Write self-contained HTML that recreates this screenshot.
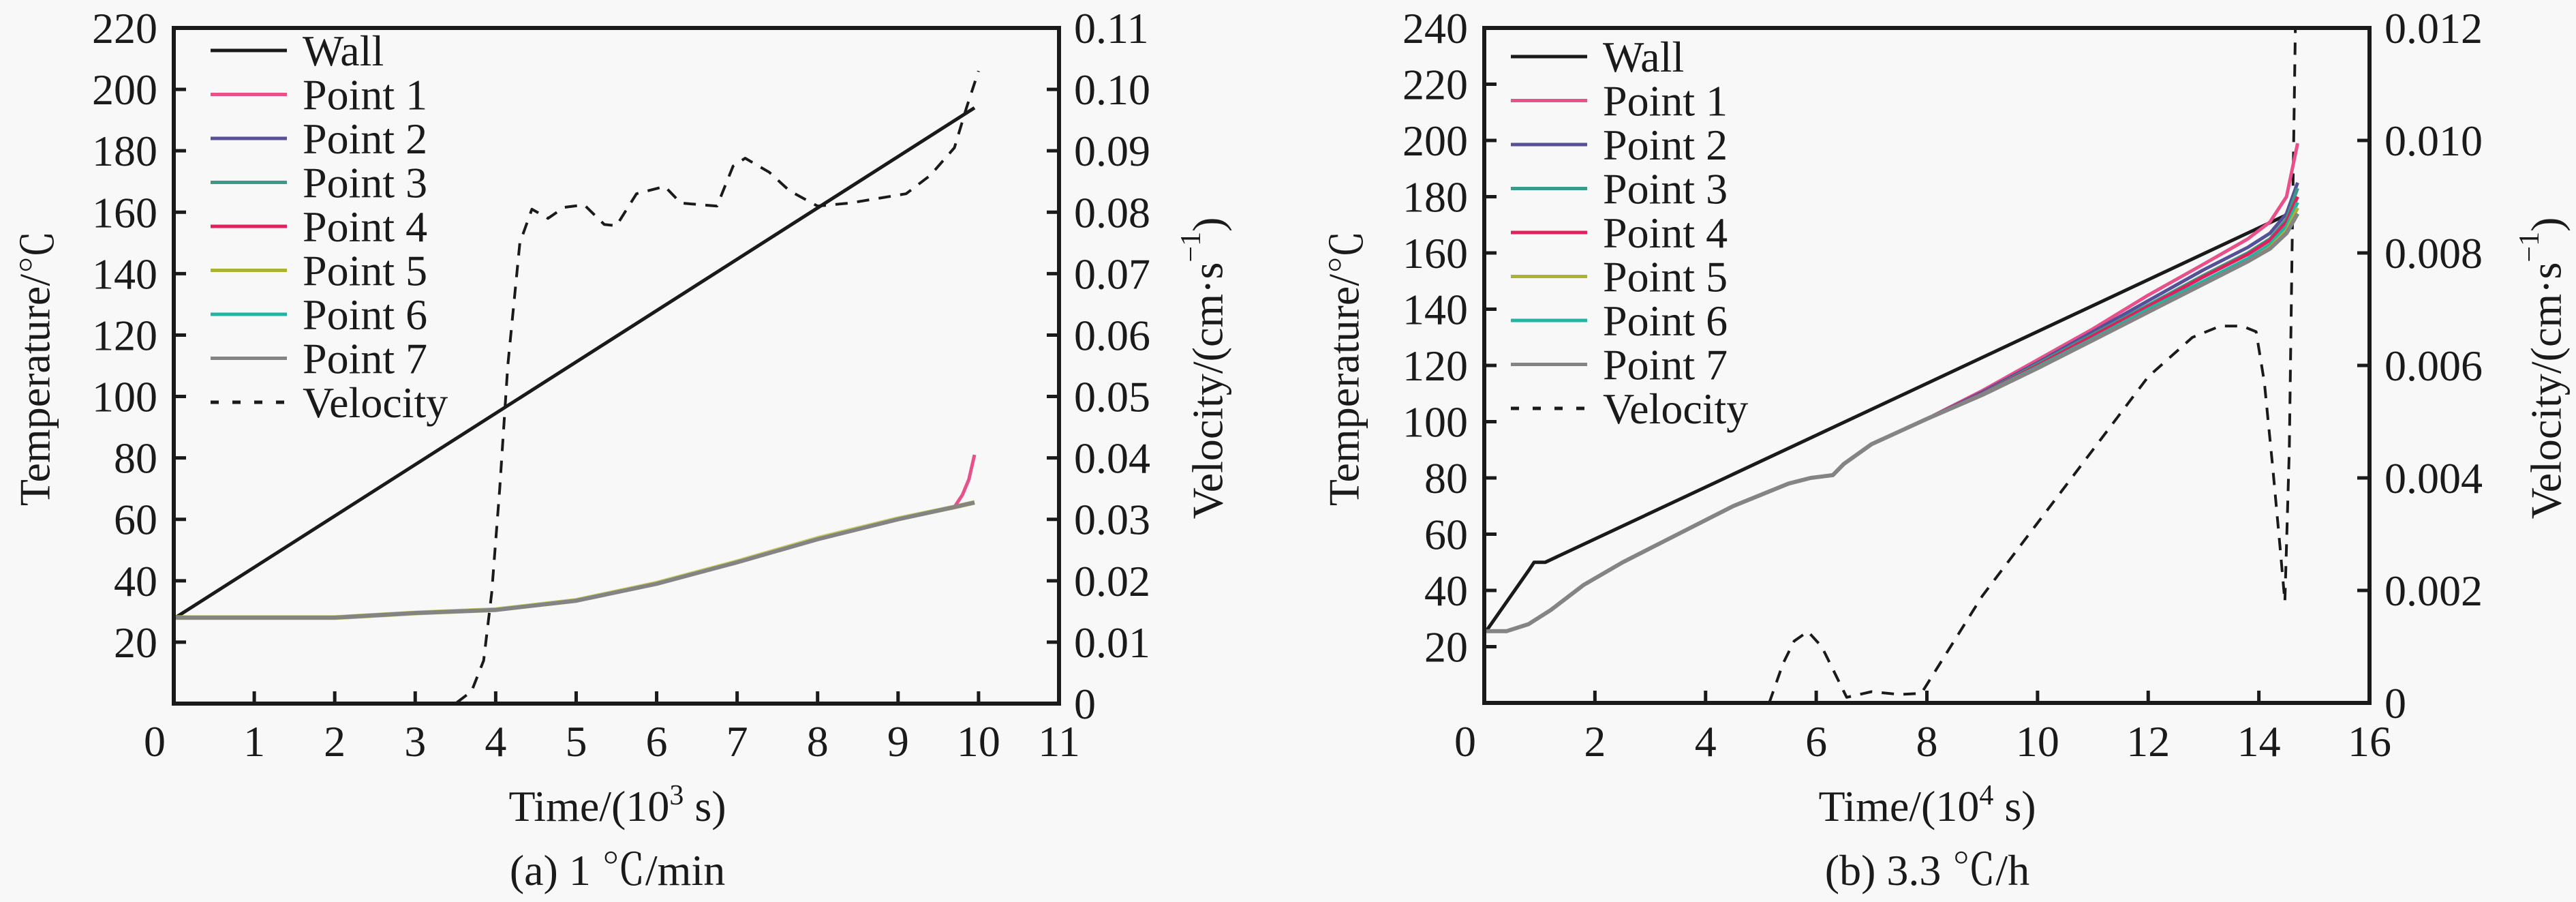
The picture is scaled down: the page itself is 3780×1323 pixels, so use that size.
<!DOCTYPE html>
<html><head><meta charset="utf-8"><style>
html,body{margin:0;padding:0;background:#f8f8f8;font-family:"Liberation Serif","Times New Roman",serif;}
svg{display:block;font-family:"Liberation Serif","Times New Roman",serif;}
svg text{font-family:"Liberation Serif","Times New Roman",serif !important;fill:#1a1a1a;font-size:64px;}
svg text tspan.cjk{font-family:"Noto Serif CJK SC","Noto Sans CJK SC",serif !important;}
</style></head><body>
<svg id="fig" width="3780" height="1323" viewBox="0 0 3780 1323" xmlns="http://www.w3.org/2000/svg" font-family="Liberation Serif, serif">
<rect width="3780" height="1323" fill="#f8f8f8"/>
<g id="chartA" font-family="Liberation Serif, serif"></g>
<g id="chartB" font-family="Liberation Serif, serif"></g>
<text x="51" y="540" text-anchor="middle" dominant-baseline="central" transform="rotate(-90 51 540)">Temperature/<tspan class="cjk">℃</tspan></text>
<text x="1772" y="540" text-anchor="middle" dominant-baseline="central" transform="rotate(-90 1772 540)">Velocity/(cm·s<tspan dy="-24" font-size="42">−1</tspan><tspan dy="24">)</tspan></text>
<text x="906" y="1204" text-anchor="middle">Time/(10<tspan dy="-24" font-size="42">3</tspan><tspan dy="24"> s)</tspan></text>
<text x="906" y="1298" text-anchor="middle">(a) 1 <tspan class="cjk">℃</tspan>/min</text>
<text x="1972" y="540" text-anchor="middle" dominant-baseline="central" transform="rotate(-90 1972 540)">Temperature/<tspan class="cjk">℃</tspan></text>
<text x="3736" y="540" text-anchor="middle" dominant-baseline="central" transform="rotate(-90 3736 540)">Velocity/(cm·s<tspan dy="-24" font-size="42">−1</tspan><tspan dy="24">)</tspan></text>
<text x="2828" y="1204" text-anchor="middle">Time/(10<tspan dy="-24" font-size="42">4</tspan><tspan dy="24"> s)</tspan></text>
<text x="2828" y="1298" text-anchor="middle">(b) 3.3 <tspan class="cjk">℃</tspan>/h</text>
</svg>
<script>
// ---------- Chart A data ----------
const aXTicks = [0,1,2,3,4,5,6,7,8,9,10,11];
const aYTicks = [20,40,60,80,100,120,140,160,180,200,220];
const aY2Ticks = [0,0.01,0.02,0.03,0.04,0.05,0.06,0.07,0.08,0.09,0.10,0.11];
const aY2Labels = ["0","0.01","0.02","0.03","0.04","0.05","0.06","0.07","0.08","0.09","0.10","0.11"];
const aWallX = [0.02,9.95];
const aWallY = [28,194];
const aPtX = [0,2,3,4,5,6,7,8,9,9.7,9.95];
const aPt7Y = [28,28,29.5,30.5,33.5,39,46,53.5,60,64,65.5];
const aPt5Y = [28,28,29.5,30.6,33.6,39.2,46.2,53.8,60.2,64,65.5];
const aPt1X = [9.7,9.8,9.88,9.95];
const aPt1Y = [64,68,73,81];
const aVelX = [0,3.5,3.7,3.85,3.95,4.05,4.15,4.3,4.45,4.65,4.85,5.1,5.35,5.5,5.75,6.1,6.3,6.75,6.95,7.1,7.4,7.65,8.0,8.4,9.1,9.4,9.7,9.85,10.0];
const aVelY = [0,0,0.002,0.007,0.018,0.035,0.055,0.075,0.0805,0.079,0.0808,0.0812,0.078,0.0778,0.083,0.0842,0.0815,0.081,0.0875,0.0888,0.0865,0.0835,0.081,0.0815,0.083,0.086,0.0905,0.097,0.103];

// ---------- Chart B data ----------
const bXTicks = [0,2,4,6,8,10,12,14,16];
const bYTicks = [20,40,60,80,100,120,140,160,180,200,220,240];
const bY2Ticks = [0,0.002,0.004,0.006,0.008,0.010,0.012];
const bY2Labels = ["0","0.002","0.004","0.006","0.008","0.010","0.012"];
const bWallX = [0.05,0.8,0.9,1.1,14.66];
const bWallY = [26,47,50,50,175];
const bPtX = [0,0.4,0.8,1.2,1.8,2.5,3.5,4.5,5.5,5.9,6.3,6.5,7,8,9,10,11,12,13,13.8,14.2,14.5,14.7];
const bP1 = [25.5,25.5,28,33,42,50,60,70,78,80,81,85,92,101,111,122,133,145,156,165,171,180,199];
const bP2 = [25.5,25.5,28,33,42,50,60,70,78,80,81,85,92,101,110.5,121,132,143,154,162,167,174,185];
const bP3 = [25.5,25.5,28,33,42,50,60,70,78,80,81,85,92,101,110,120.5,131,141.5,152,160,165,172,183];
const bP4 = [25.5,25.5,28,33,42,50,60,70,78,80,81,85,92,101,110,120,130.5,141,151.5,159.5,164.5,171,180];
const bP5 = [25.5,25.5,28,33,42,50,60,70,78,80,81,85,92,101,109.5,119,129,139,149,157,162,168,176];
const bP6 = [25.5,25.5,28,33,42,50,60,70,78,80,81,85,92,101,109.8,119.5,129.5,140,150,158,163,169.5,178];
const bP7 = [25.5,25.5,28,33,42,50,60,70,78,80,81,85,92,101,109.5,119,129,139,149,157,161.5,167,174];
const bVelX = [5.15,5.4,5.6,5.85,6.1,6.3,6.55,7.0,7.5,7.9,8.3,9,10,11,12,12.8,13.3,13.7,13.95,14.1,14.25,14.38,14.47,14.55,14.6,14.66];
const bVelY = [0,0.0007,0.0011,0.00127,0.001,0.0006,0.0001,0.0002,0.00015,0.00017,0.0008,0.0019,0.0032,0.0045,0.0058,0.0065,0.0067,0.0067,0.0066,0.0057,0.0042,0.0028,0.0018,0.0045,0.008,0.012];

const NS = "http://www.w3.org/2000/svg";
const SERIF = '"Liberation Serif", "Times New Roman", serif';
function mk(tag, parent){ const e=document.createElementNS(NS,tag); parent.appendChild(e); return e; }
function mkText(parent){ const t=mk('text',parent); t.setAttribute('font-family','Liberation Serif, serif'); t.style.fontFamily=SERIF; t.style.fontSize='64px'; return t; }
function lin(d0,d1,r0,r1){ return v => r0 + (v-d0)/(d1-d0)*(r1-r0); }
function pathD(xs, ys, sx, sy){ return xs.map((x,i)=>(i?'L':'M')+sx(x).toFixed(1)+' '+sy(ys[i]).toFixed(1)).join(' '); }

function drawChart(g, cfg){
  const {L,R,T,B} = cfg;
  const sx = lin(cfg.xmin,cfg.xmax,L,R);
  const sy = lin(0,cfg.ymax,B,T);
  const sy2 = lin(0,cfg.y2max,B,T);
  cfg.series.forEach(s=>{
    const p = mk('path', g);
    
    
    p.setAttribute('d', pathD(s.x, s.y, sx, s.axis2?sy2:sy));
    p.setAttribute('fill','none');
    p.setAttribute('stroke', s.color);
    p.setAttribute('stroke-width', s.w||5);
    p.setAttribute('stroke-linejoin','round');
    if(s.dash) p.setAttribute('stroke-dasharray', s.dash);
  });
  const fr = mk('rect', g);
  
  
  fr.setAttribute('x',L); fr.setAttribute('y',T); fr.setAttribute('width',R-L); fr.setAttribute('height',B-T);
  fr.setAttribute('fill','none'); fr.setAttribute('stroke','#1a1a1a'); fr.setAttribute('stroke-width',6);
  cfg.xTicks.forEach(v=>{
    const x = sx(v);
    if(v!==cfg.xmin && v!==cfg.xmax){
      const t = mk('line', g);
      
      
      t.setAttribute('x1',x); t.setAttribute('x2',x); t.setAttribute('y1',B); t.setAttribute('y2',B-18);
      t.setAttribute('stroke','#1a1a1a'); t.setAttribute('stroke-width',5);
    }
    const tx = mkText(g);
    
    
    tx.setAttribute('x', v===cfg.xmin ? x-28 : x); tx.setAttribute('y', 1109);
    tx.setAttribute('text-anchor','middle');
    tx.textContent = v;
  });
  cfg.yTicks.forEach(v=>{
    const y = sy(v);
    if(v!==cfg.ymax){
      const t = mk('line', g);
      
      
      t.setAttribute('x1',L); t.setAttribute('x2',L+18); t.setAttribute('y1',y); t.setAttribute('y2',y);
      t.setAttribute('stroke','#1a1a1a'); t.setAttribute('stroke-width',5);
    }
    const tx = mkText(g);
    
    
    tx.setAttribute('x', L-24); tx.setAttribute('y', y+22);
    tx.setAttribute('text-anchor','end');
    tx.textContent = v;
  });
  cfg.y2Ticks.forEach((v,i)=>{
    const y = sy2(v);
    if(v!==0 && v!==cfg.y2max){
      const t = mk('line', g);
      
      
      t.setAttribute('x1',R); t.setAttribute('x2',R-18); t.setAttribute('y1',y); t.setAttribute('y2',y);
      t.setAttribute('stroke','#1a1a1a'); t.setAttribute('stroke-width',5);
    }
    const tx = mkText(g);
    
    
    tx.setAttribute('x', R+22); tx.setAttribute('y', y+22);
    tx.textContent = cfg.y2Labels[i];
  });
  cfg.legend.forEach((s,i)=>{
    const y = cfg.legY + i*64.5;
    const l = mk('line', g);
    
    
    l.setAttribute('x1',cfg.legX); l.setAttribute('x2',cfg.legX+112); l.setAttribute('y1',y); l.setAttribute('y2',y);
    l.setAttribute('stroke', s.color); l.setAttribute('stroke-width',5);
    if(s.dash) l.setAttribute('stroke-dasharray','12 20');
    const tx = mkText(g);
    
    
    tx.setAttribute('x', cfg.legX+135); tx.setAttribute('y', y+22);
    tx.textContent = s.label;
  });
}

const legendItems = [
  {label:'Wall',color:'#1a1a1a'},
  {label:'Point 1',color:'#e8508a'},
  {label:'Point 2',color:'#55509a'},
  {label:'Point 3',color:'#3a9a88'},
  {label:'Point 4',color:'#e0205a'},
  {label:'Point 5',color:'#aab432'},
  {label:'Point 6',color:'#22b4a2'},
  {label:'Point 7',color:'#848484'},
  {label:'Velocity',color:'#1a1a1a',dash:true}
];

drawChart(document.getElementById('chartA'), {
  L:255,R:1554,T:41,B:1032,xmin:0,xmax:11,ymax:220,y2max:0.11,
  xTicks:aXTicks,yTicks:aYTicks,y2Ticks:aY2Ticks,y2Labels:aY2Labels,
  legX:309,legY:74,legend:legendItems,
  series:[
    {name:'velocity-line',x:aVelX,y:aVelY,axis2:true,color:'#1a1a1a',dash:'18 14',w:4},
    {name:'wall-line',x:aWallX,y:aWallY,color:'#1a1a1a'},
    {name:'point5-line',x:aPtX,y:aPt5Y,color:'#c8cc60',w:7},
    {name:'point1-line',x:aPt1X,y:aPt1Y,color:'#e8508a'},
    {name:'point7-line',x:aPtX,y:aPt7Y,color:'#848484',w:6}
  ]
});

drawChart(document.getElementById('chartB'), {
  L:2178,R:3477,T:41,B:1031,xmin:0,xmax:16,ymax:240,y2max:0.012,
  xTicks:bXTicks,yTicks:bYTicks,y2Ticks:bY2Ticks,y2Labels:bY2Labels,
  legX:2217,legY:83,legend:legendItems,
  series:[
    {name:'velocity-line',x:bVelX,y:bVelY,axis2:true,color:'#1a1a1a',dash:'18 14',w:4},
    {name:'wall-line',x:bWallX,y:bWallY,color:'#1a1a1a'},
    {name:'point1-line',x:bPtX,y:bP1,color:'#e8508a'},
    {name:'point2-line',x:bPtX,y:bP2,color:'#55509a'},
    {name:'point3-line',x:bPtX,y:bP3,color:'#3a9a88'},
    {name:'point4-line',x:bPtX,y:bP4,color:'#e0205a'},
    {name:'point6-line',x:bPtX,y:bP6,color:'#22b4a2'},
    {name:'point5-line',x:bPtX,y:bP5,color:'#aab432'},
    {name:'point7-line',x:bPtX,y:bP7,color:'#848484',w:6}
  ]
});
</script>
</body></html>
